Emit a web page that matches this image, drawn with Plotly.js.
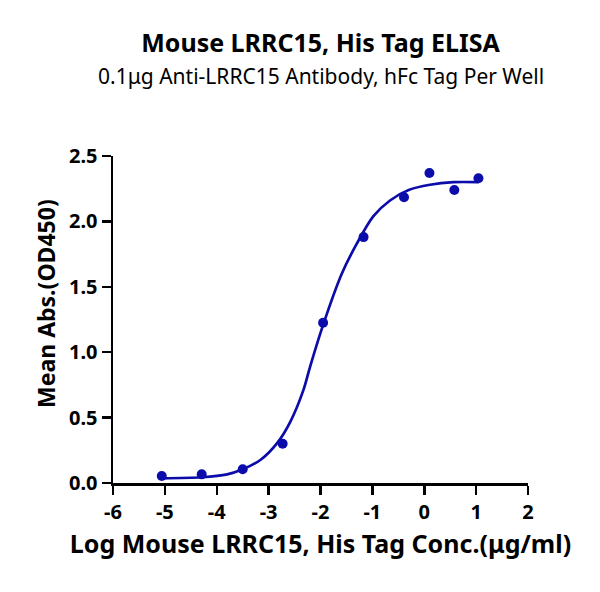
<!DOCTYPE html>
<html>
<head>
<meta charset="utf-8">
<script src="https://cdn.plot.ly/plotly-3.0.1.min.js"></script>
<style>
  html, body { margin: 0; padding: 0; background: #fff; }
  #chart { width: 600px; height: 592px; }
</style>
</head>
<body>
<div id="chart"></div>
<script>
// measured points (log conc vs OD450)
const logConc = [-5.06, -4.29, -3.50, -2.73, -1.95, -1.17, -0.39, 0.10, 0.58, 1.045];
const meanAbs = [0.054, 0.066, 0.105, 0.300, 1.225, 1.880, 2.185, 2.370, 2.240, 2.330];

// fitted curve
const fitX = [-5.07, -4.29, -3.80, -3.50, -3.16, -2.84, -2.58, -2.33, -2.20, -1.94, -1.59, -1.30, -0.98, -0.66, -0.30, 0.11, 0.56, 1.05];
const fitY = [0.036, 0.044, 0.066, 0.105, 0.176, 0.303, 0.47, 0.71, 0.89, 1.22, 1.60, 1.83, 2.04, 2.16, 2.24, 2.28, 2.30, 2.30];

const xTicks = [-6, -5, -4, -3, -2, -1, 0, 1, 2];
const yTicks = [0, 0.5, 1, 1.5, 2, 2.5];

const blue = '#0c0caa';
const fontFam = '"Noto Sans", "DejaVu Sans", sans-serif';

const traces = [
  {
    x: fitX, y: fitY,
    mode: 'lines',
    line: { color: blue, width: 2.7, shape: 'spline', smoothing: 0.8 },
    hoverinfo: 'skip'
  },
  {
    x: logConc, y: meanAbs,
    mode: 'markers',
    marker: { color: blue, size: 10 },
    cliponaxis: false
  }
];

const axisBase = {
  showgrid: false,
  zeroline: false,
  showline: true,
  linecolor: '#000',
  linewidth: 2.5,
  ticks: 'outside',
  ticklen: 9,
  tickwidth: 2.5,
  tickcolor: '#000',
  tickfont: { family: fontFam, size: 20, color: '#000', weight: 'bold' }
};

// plot area: left 113, width 415; top 156, bottom 483 (327 px tall)
const subY = (483 - 76) / 327;

const layout = {
  width: 600,
  height: 592,
  margin: { l: 113, r: 72, t: 156, b: 109 },
  paper_bgcolor: '#fff',
  plot_bgcolor: '#fff',
  showlegend: false,
  font: { family: fontFam, color: '#000' },
  title: {
    text: 'Mouse LRRC15, His Tag ELISA',
    font: { family: fontFam, size: 25, weight: 'bold', color: '#000' },
    x: 0.5, xref: 'paper',
    y: 1 - 43 / 592, yref: 'container', yanchor: 'middle'
  },
  annotations: [
    {
      text: '0.1μg Anti-LRRC15 Antibody, hFc Tag Per Well',
      xref: 'paper', yref: 'paper',
      x: 0.5, y: subY,
      xanchor: 'center', yanchor: 'middle',
      showarrow: false,
      font: { family: fontFam, size: 21, color: '#000' }
    },
    {
      text: 'Mean Abs.(OD450)',
      xref: 'paper', yref: 'paper',
      x: (46 - 113) / 415, y: (483 - 304) / 327,
      xanchor: 'center', yanchor: 'middle',
      textangle: -90,
      showarrow: false,
      font: { family: fontFam, size: 23, weight: 'bold', color: '#000' }
    }
  ],
  xaxis: Object.assign({}, axisBase, {
    range: [-6, 2],
    tickvals: xTicks,
    ticktext: xTicks.map(String),
    title: { text: 'Log Mouse LRRC15, His Tag Conc.(μg/ml)', font: { family: fontFam, size: 25, weight: 'bold', color: '#000' }, standoff: 12 }
  }),
  yaxis: Object.assign({}, axisBase, {
    range: [0, 2.5],
    tickvals: yTicks,
    ticktext: yTicks.map(v => v.toFixed(1))
  })
};

Plotly.newPlot('chart', traces, layout, { staticPlot: true });
</script>
</body>
</html>
